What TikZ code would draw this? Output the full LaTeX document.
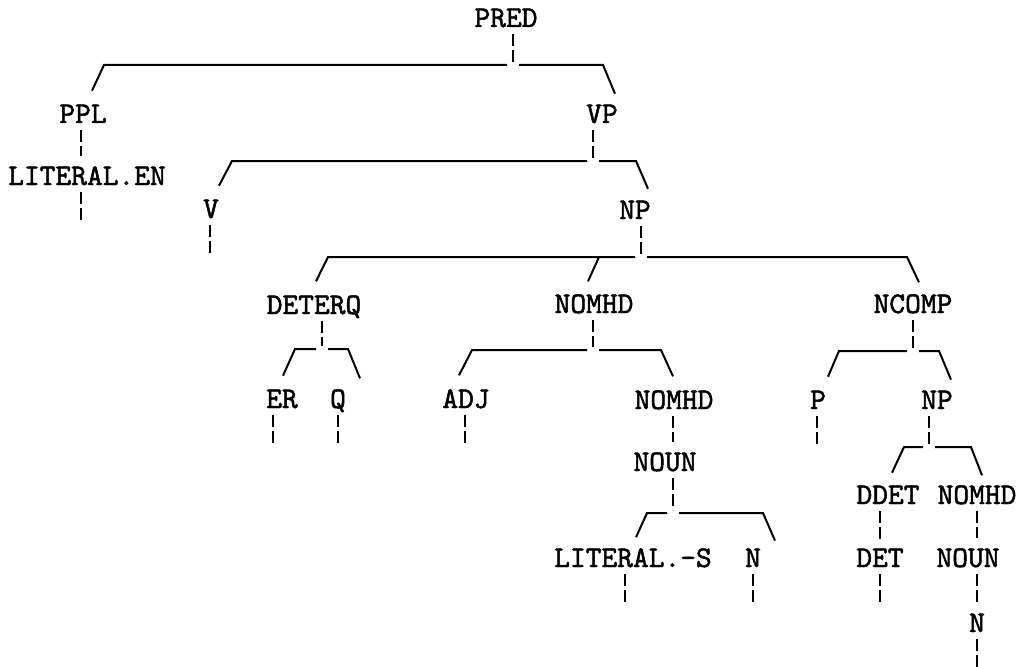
\documentclass[tikz,border=0pt]{standalone}
\usepackage{fontspec}
\newfontfamily\typewr{lmmono10-regular.otf}[FakeBold=1.6]
\begin{document}
\begin{tikzpicture}[x=1pt,y=-1pt,line width=2pt,
  lbl/.style={anchor=base,inner sep=0pt,text depth=0pt,font=\typewr\fontsize{30}{30}\selectfont},
  stem/.style={dash pattern=on 12pt off 4pt,shorten <=6pt},
  tobar/.style={stem,shorten >=3pt},
  tonode/.style={stem,shorten >=9pt}]
  \fill[white] (0,0) rectangle (1019,666);
  \useasboundingbox (0,0) rectangle (1019,666);

  \node[lbl] (pred)   at (506,27)  {PRED};
  \node[lbl] (ppl)    at (83,123)  {PPL};
  \node[lbl] (vp)     at (602,123) {VP};
  \node[lbl] (litEN)  at (87,185)  {LITERAL.EN};
  \node[lbl] (v)      at (211,218) {V};
  \node[lbl] (np1)    at (635,219) {NP};
  \node[lbl] (deterq) at (314,314) {DETERQ};
  \node[lbl] (nomhd1) at (594,313) {NOMHD};
  \node[lbl] (ncomp)  at (913,313) {NCOMP};
  \node[lbl] (er)     at (282,408) {ER};
  \node[lbl] (q)      at (338,408) {Q};
  \node[lbl] (adj)    at (466,408) {ADJ};
  \node[lbl] (nomhd2) at (674,409) {NOMHD};
  \node[lbl] (p)      at (818,409) {P};
  \node[lbl] (np2)    at (937,409) {NP};
  \node[lbl] (noun1)  at (665,471) {NOUN};
  \node[lbl] (ddet)   at (888,504) {DDET};
  \node[lbl] (nomhd3) at (977,504) {NOMHD};
  \node[lbl] (litS)   at (633,567) {LITERAL.-S};
  \node[lbl] (n1)     at (753,567) {N};
  \node[lbl] (det)    at (880,567) {DET};
  \node[lbl] (noun2)  at (968,567) {NOUN};
  \node[lbl] (n2)     at (977,632) {N};

  % junctions on the bars
  \coordinate (j1) at (513,65);
  \coordinate (j2) at (593,161);
  \coordinate (j3) at (641,257);
  \coordinate (j4) at (322,349);
  \coordinate (j5) at (593,350);
  \coordinate (j6) at (913,351);
  \coordinate (j7) at (929,447);
  \coordinate (j8) at (673,513);

  \foreach \a/\j in {pred/j1,vp/j2,np1/j3,deterq/j4,nomhd1/j5,ncomp/j6,np2/j7,noun1/j8}
    \draw[tobar] (\a.south -| \j) -- (\j);
  \draw[tonode] (ppl.south -| 81,0) -- (litEN.north -| 81,0);
  \draw[tonode] (nomhd2.south -| 673,0) -- (noun1.north -| 673,0);
  \draw[tonode] (ddet.south -| 880,0) -- (det.north -| 880,0);
  \draw[tonode] (nomhd3.south -| 977,0) -- (noun2.north -| 977,0);
  \draw[tonode] (noun2.south -| 977,0) -- (n2.north -| 977,0);
  \foreach \a/\x in {litEN/81,v/210,er/273,q/338,adj/465,p/817,litS/625,n1/753,det/880}
    \draw[stem] (\a.south -| \x,0) -- ++(0,34);
  \draw[stem] (n2.south -| 977,0) -- ++(0,36);

  % bars and slants
  \draw ([xshift=9pt,yshift=13pt]ppl.north) -- (104,65) -- ([xshift=-6pt]j1);
  \draw ([xshift=6pt]j1) -- (603,65) -- ([xshift=13pt,yshift=10pt]vp.north);
  \draw ([xshift=8pt,yshift=13pt]v.north) -- (232,161) -- ([xshift=-6pt]j2);
  \draw ([xshift=6pt]j2) -- (636,161) -- ([xshift=13pt,yshift=11pt]np1.north);
  \draw ([xshift=2pt,yshift=13pt]deterq.north) -- (328,257) -- ([xshift=-6pt]j3);
  \draw ([xshift=-6pt,yshift=12pt]nomhd1.north) -- (599,257);
  \draw ([xshift=6pt]j3) -- (907,257) -- ([xshift=6pt,yshift=11pt]ncomp.north);
  \draw ([xshift=1pt,yshift=13pt]er.north) -- (295,349) -- ([xshift=-6pt]j4);
  \draw ([xshift=6pt]j4) -- (348,349) -- ([xshift=22pt,yshift=10pt]q.north);
  \draw ([xshift=-7pt,yshift=13pt]adj.north) -- (472,350) -- ([xshift=-6pt]j5);
  \draw ([xshift=6pt]j5) -- (661,350) -- ([xshift=-1pt,yshift=13pt]nomhd2.north);
  \draw ([xshift=10pt,yshift=13pt]p.north) -- (839,351) -- ([xshift=-6pt]j6);
  \draw ([xshift=6pt]j6) -- (939,351) -- ([xshift=14pt,yshift=10pt]np2.north);
  \draw ([xshift=4pt,yshift=12pt]ddet.north) -- (904,447) -- ([xshift=-6pt]j7);
  \draw ([xshift=6pt]j7) -- (971,447) -- ([xshift=5pt,yshift=9pt]nomhd3.north);
  \draw ([xshift=3pt,yshift=10pt]litS.north) -- (647,513) -- ([xshift=-6pt]j8);
  \draw ([xshift=6pt]j8) -- (763,513) -- ([xshift=22pt,yshift=7pt]n1.north);
\end{tikzpicture}
\end{document}
